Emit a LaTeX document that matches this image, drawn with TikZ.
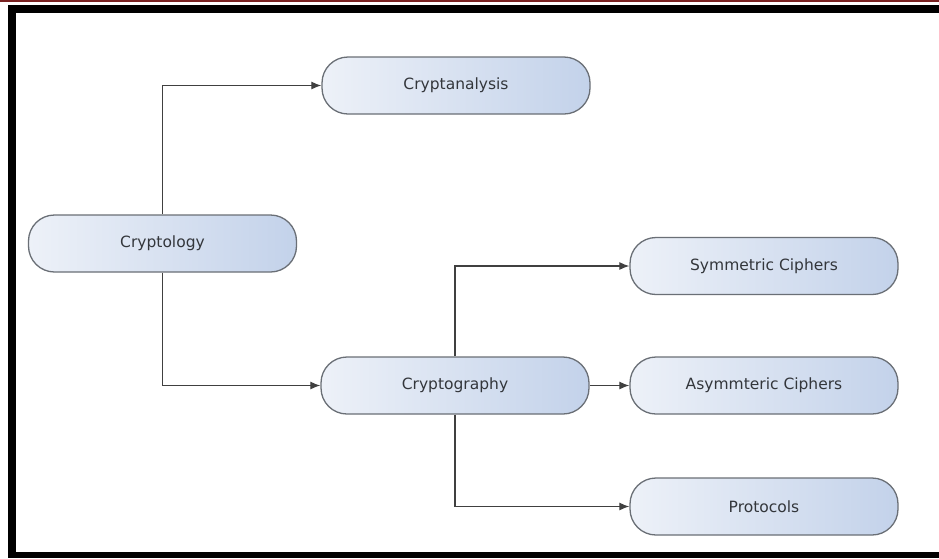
\documentclass[tikz,border=0pt]{standalone}
\usepackage{fontspec}
\setmainfont{DejaVu Sans}
\usetikzlibrary{arrows.meta}
\definecolor{framered}{HTML}{7A2222}
\definecolor{boxedge}{HTML}{6A6F76}
\definecolor{boxleft}{HTML}{EDF1F8}
\definecolor{boxright}{HTML}{C3D2EA}
\definecolor{labeltext}{HTML}{33363B}
\definecolor{wire}{HTML}{404040}
\tikzset{
  topic/.style={draw=boxedge, line width=1.3pt, rounded corners=26pt,
    left color=boxleft, right color=boxright,
    minimum width=268pt, minimum height=57pt, inner sep=0pt,
    font=\fontsize{15.5}{18}\selectfont, text=labeltext},
  link/.style={draw=wire, line width=1.2pt,
    -{Latex[length=10pt,width=8pt]}},
}
\begin{document}
\begin{tikzpicture}[x=1pt,y=-1pt]
  \useasboundingbox (0,0) rectangle (939,558);
  \fill[white] (0,0) rectangle (939,558);
  % frame
  \fill[framered] (0,0) rectangle (939,1.6);
  \fill[black] (8,4.5) rectangle (939,12.5);
  \fill[black] (8,4.5) rectangle (15.5,558);
  \fill[black] (8,552) rectangle (939,558);

  % nodes
  \node[topic] (cryptology)   at (162.5,243.5) {Cryptology};
  \node[topic] (cryptanalysis) at (456,85.5) {Cryptanalysis};
  \node[topic] (cryptography)  at (455,385.5) {Cryptography};
  \node[topic] (symmetric)     at (764,266) {Symmetric Ciphers};
  \node[topic] (asymmetric)    at (764,385.5) {Asymmteric Ciphers};
  \node[topic] (protocols)     at (764,506.5) {Protocols};

  % connectors
  \draw[link] (cryptology.north) |- (cryptanalysis.west);
  \draw[link] (cryptology.south) |- (cryptography.west);
  \draw[link] (cryptography.north) |- (symmetric.west);
  \draw[link] (cryptography.east) -- (asymmetric.west);
  \draw[link] (cryptography.south) |- (protocols.west);
\end{tikzpicture}
\end{document}
